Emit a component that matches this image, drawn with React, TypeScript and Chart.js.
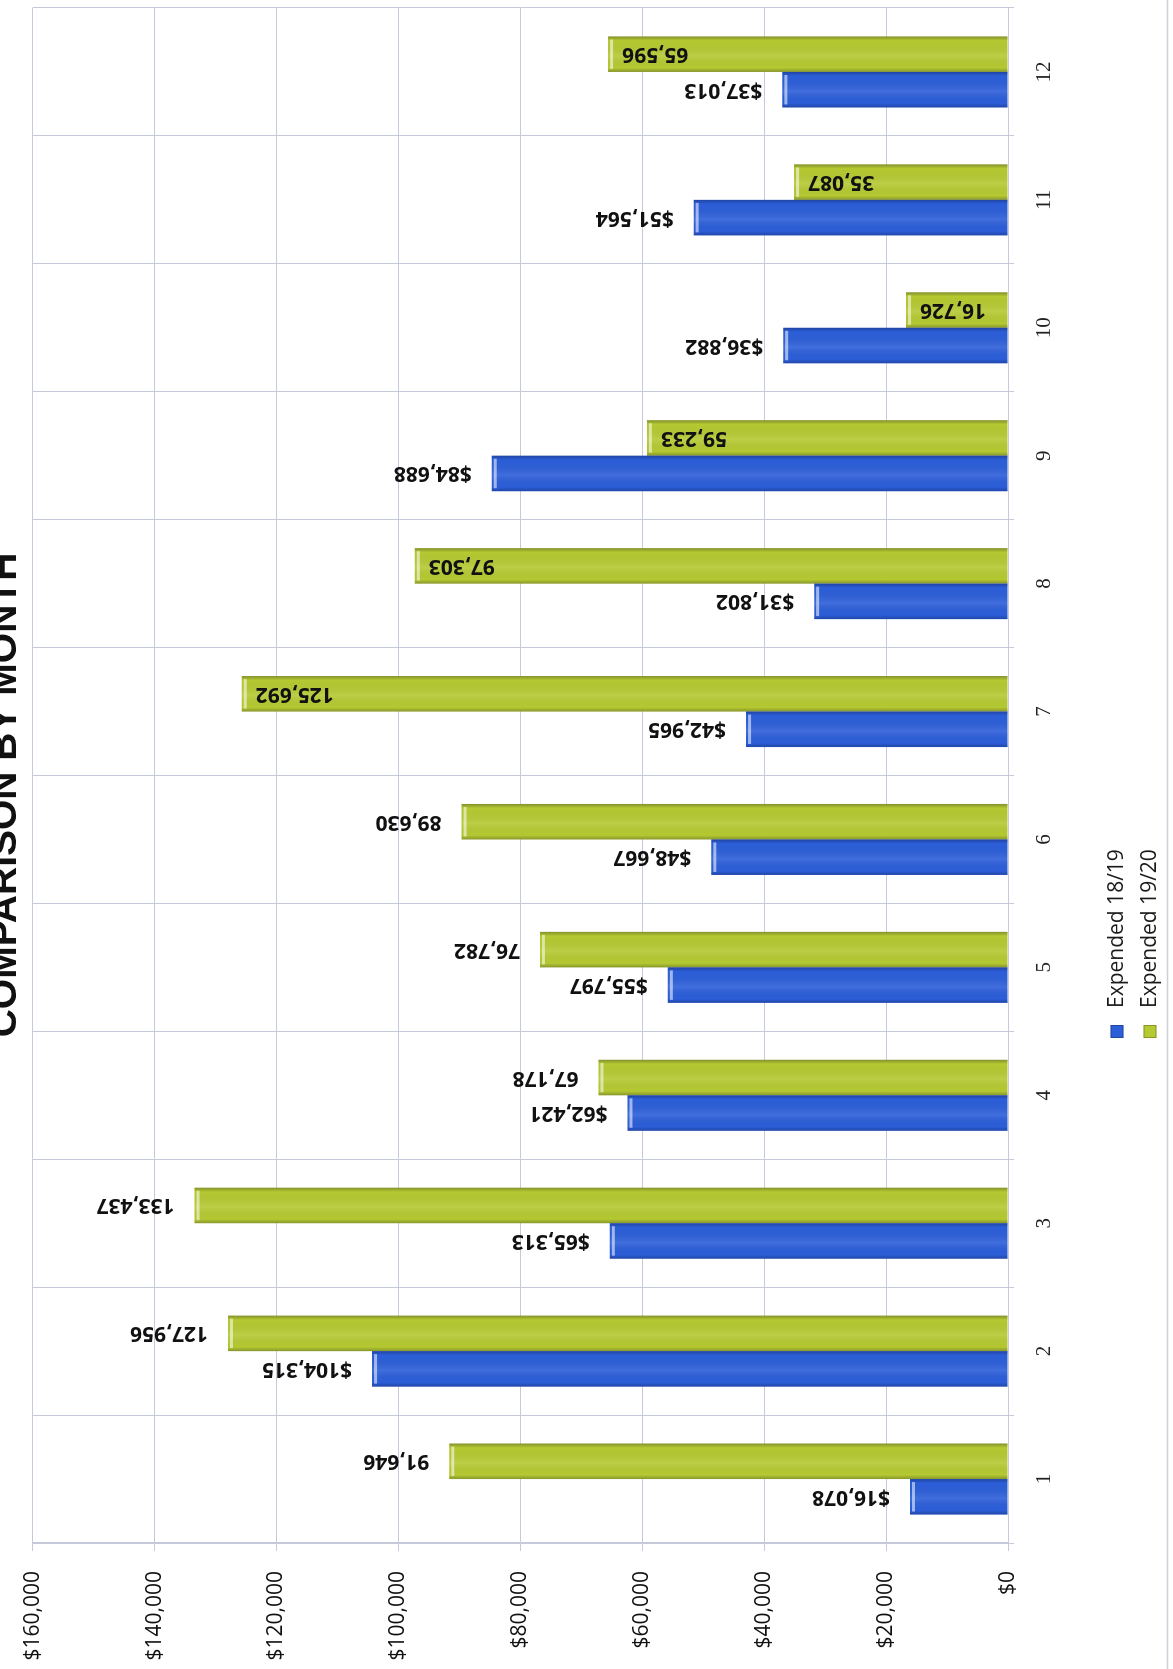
import React, { useEffect, useRef } from 'react';
import { Chart, registerables } from 'chart.js';

Chart.register(...registerables);

// ---- data ----
const months = ['1', '2', '3', '4', '5', '6', '7', '8', '9', '10', '11', '12'];
const expended1819 = [16078, 104315, 65313, 62421, 55797, 48667, 42965, 31802, 84688, 36882, 51564, 37013];
const expended1920 = [91646, 127956, 133437, 67178, 76782, 89630, 125692, 97303, 59233, 16726, 35087, 65596];
const seriesNames = ['Expended 18/19', 'Expended 19/20'];
const insideLabelMonths = ['7', '8', '9', '10', '11', '12'];
const titleText = 'COMPARISON BY MONTH';
const valueMax = 160000;
const valueStep = 20000;

// ---- styling ----
const W = 1669;
const H = 1173;
const seriesColors = ['#2c5ed8', '#b5c932'];
const gridColor = '#c6c9da';
const sansFont = '"Open Sans", "Liberation Sans", sans-serif';
const serifFont = '"Liberation Serif", "DejaVu Serif", serif';

const fmt = (v: number) => v.toLocaleString('en-US');

const barStylePlugin = {
  id: 'barStyle',
  afterDatasetsDraw(chart: any) {
    const ctx = chart.ctx;
    chart.data.datasets.forEach((_ds: any, di: number) => {
      const meta = chart.getDatasetMeta(di);
      meta.data.forEach((el: any) => {
        const p = el.getProps(['x', 'y', 'base', 'width'], true);
        const left = p.x - p.width / 2;
        const top = Math.min(p.y, p.base);
        const h = Math.abs(p.base - p.y);
        const g = ctx.createLinearGradient(left, 0, left + p.width, 0);
        g.addColorStop(0, 'rgba(0,0,40,0.25)');
        g.addColorStop(0.12, 'rgba(0,0,0,0)');
        g.addColorStop(0.45, 'rgba(255,255,255,0.10)');
        g.addColorStop(0.88, 'rgba(0,0,0,0)');
        g.addColorStop(1, 'rgba(0,0,40,0.28)');
        ctx.save();
        ctx.fillStyle = g;
        ctx.fillRect(left, top, p.width, h);
        ctx.fillStyle = 'rgba(255,255,255,0.55)';
        ctx.fillRect(left + 3, top + 2, p.width - 6, 3);
        ctx.restore();
      });
    });
  },
};

const valueLabelPlugin = {
  id: 'valueLabels',
  afterDatasetsDraw(chart: any) {
    const ctx = chart.ctx;
    ctx.save();
    ctx.font = `bold 21px ${sansFont}`;
    ctx.fillStyle = '#111';
    ctx.textBaseline = 'middle';
    chart.data.datasets.forEach((ds: any, di: number) => {
      const meta = chart.getDatasetMeta(di);
      meta.data.forEach((el: any, i: number) => {
        const p = el.getProps(['x', 'y'], true);
        const v = ds.data[i] as number;
        const text = di === 0 ? '$' + fmt(v) : fmt(v);
        const inside = di === 1 && insideLabelMonths.includes(months[i]);
        ctx.save();
        if (inside) {
          ctx.translate(p.x, p.y + 14);
          ctx.rotate(-Math.PI / 2);
          ctx.textAlign = 'right';
        } else {
          ctx.translate(p.x, p.y - 20);
          ctx.rotate(-Math.PI / 2);
          ctx.textAlign = 'left';
        }
        ctx.fillText(text, 0, 0);
        ctx.restore();
      });
    });
    ctx.restore();
  },
};

const decorPlugin = {
  id: 'decor',
  afterDraw(chart: any) {
    const ctx = chart.ctx;
    ctx.save();
    // title (partly cut off at the top like the scan)
    ctx.font = `bold 39px "Liberation Sans", sans-serif`;
    ctx.fillStyle = '#111';
    ctx.textAlign = 'center';
    ctx.textBaseline = 'alphabetic';
    ctx.fillText(titleText, 874, 16);

    // legend (stacked)
    const rows = [1117, 1150];
    ctx.font = `21px ${sansFont}`;
    ctx.textAlign = 'left';
    ctx.textBaseline = 'middle';
    seriesNames.forEach((name, i) => {
      const y = rows[i];
      ctx.fillStyle = seriesColors[i];
      ctx.fillRect(631, y - 6.5, 13, 13);
      ctx.strokeStyle = 'rgba(0,0,0,0.25)';
      ctx.lineWidth = 1;
      ctx.strokeRect(631.5, y - 6, 12, 12);
      ctx.fillStyle = '#1a1a1a';
      ctx.fillText(name, 661, y);
    });

    // outer border line of the chart frame
    ctx.strokeStyle = '#cfd0d8';
    ctx.lineWidth = 1.5;
    ctx.beginPath();
    ctx.moveTo(0, 1167.5);
    ctx.lineTo(W, 1167.5);
    ctx.stroke();
    ctx.restore();
  },
};

export default function App() {
  const ref = useRef<HTMLCanvasElement | null>(null);

  useEffect(() => {
    if (!ref.current) return;
    const chart = new Chart(ref.current, {
      type: 'bar',
      data: {
        labels: months,
        datasets: [
          {
            label: seriesNames[0],
            data: expended1819,
            backgroundColor: seriesColors[0],
            borderWidth: 0,
            barPercentage: 1,
            categoryPercentage: 0.555,
          },
          {
            label: seriesNames[1],
            data: expended1920,
            backgroundColor: seriesColors[1],
            borderWidth: 0,
            barPercentage: 1,
            categoryPercentage: 0.555,
          },
        ],
      },
      options: {
        responsive: false,
        animation: false,
        devicePixelRatio: 1,
        layout: { padding: { top: 21, right: 8, left: 0, bottom: 0 } },
        plugins: {
          legend: { display: false },
          title: { display: false },
          tooltip: { enabled: false },
        },
        scales: {
          x: {
            grid: { offset: true, color: gridColor, lineWidth: 1, tickLength: 6 },
            border: { display: true, color: gridColor },
            ticks: {
              font: { family: serifFont, size: 21 },
              color: '#222',
              padding: 18,
              maxRotation: 0,
              minRotation: 0,
            },
            afterFit: (s: any) => {
              s.height = 165;
            },
          },
          y: {
            min: 0,
            max: valueMax,
            grid: { color: gridColor, lineWidth: 1, tickLength: 8 },
            border: { display: true, color: gridColor },
            ticks: {
              stepSize: valueStep,
              font: { family: sansFont, size: 21 },
              color: '#111',
              padding: 20,
              callback: (v: any) => '$' + fmt(Number(v)),
            },
            afterFit: (s: any) => {
              s.width = 126;
            },
          },
        },
      },
      plugins: [barStylePlugin, valueLabelPlugin, decorPlugin],
    });
    return () => chart.destroy();
  }, []);

  return (
    <div
      style={{
        position: 'absolute',
        left: 0,
        top: 0,
        width: 1173,
        height: 1669,
        overflow: 'hidden',
        background: '#ffffff',
      }}
    >
      <div
        style={{
          position: 'absolute',
          left: 0,
          top: 0,
          width: W,
          height: H,
          transformOrigin: '0 0',
          transform: `translateY(${W}px) rotate(-90deg)`,
        }}
      >
        <canvas ref={ref} width={W} height={H} style={{ display: 'block', width: W, height: H }} />
      </div>
    </div>
  );
}
